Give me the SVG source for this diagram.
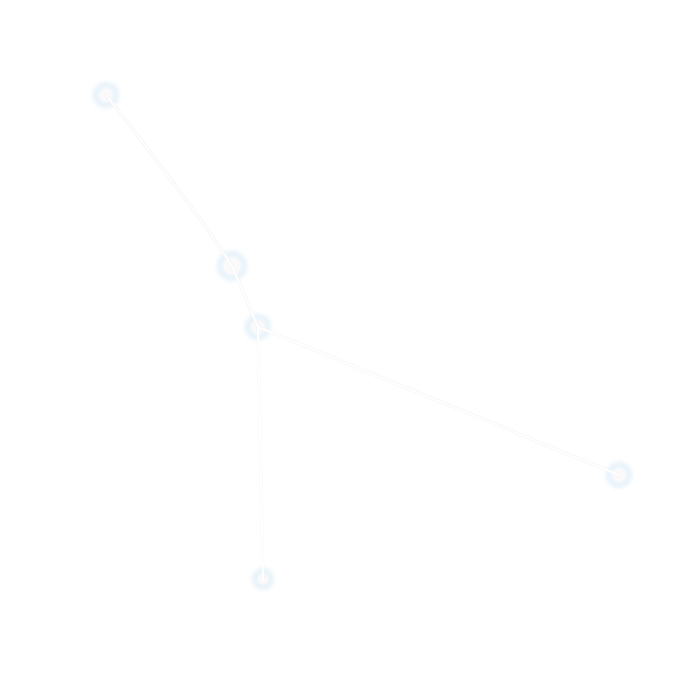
<svg xmlns="http://www.w3.org/2000/svg" width="700" height="700" viewBox="0 0 700 700">
  <defs>
    <filter id="glow" x="-100%" y="-100%" width="300%" height="300%">
      <feGaussianBlur stdDeviation="2.2"/>
    </filter>
    <style>
      .edge-under { stroke: #f2f3f4; stroke-width: 3.2; fill: none; stroke-linecap: round; }
      .edge { stroke: #ffffff; stroke-width: 2; fill: none; stroke-linecap: round; }
      .halo { fill: none; stroke: #e6f2fa; stroke-width: 6; filter: url(#glow); }
      .core { fill: #fbf9f9; stroke: none; }
    </style>
  </defs>
  <rect width="700" height="700" fill="#ffffff"/>
  <g id="nodes">
    <g id="node-a"><circle class="halo" cx="106" cy="95" r="10"/><circle class="core" cx="106" cy="95" r="6"/></g>
    <g id="node-b"><circle class="halo" cx="232" cy="266" r="12"/><circle class="core" cx="232" cy="266" r="8"/></g>
    <g id="node-c"><circle class="halo" cx="258" cy="327" r="10"/><circle class="core" cx="258" cy="327" r="6"/></g>
    <g id="node-d"><circle class="halo" cx="619" cy="475" r="10"/><circle class="core" cx="619" cy="475" r="6"/></g>
    <g id="node-e"><circle class="halo" cx="263" cy="579" r="8"/><circle class="core" cx="263" cy="579" r="4.5"/></g>
  </g>
  <g id="connectors">
    <path class="edge-under" d="M106 95 Q 200 215 232 266"/>
    <path class="edge-under" d="M232 266 L258 327"/>
    <path class="edge-under" d="M258 327 L619 475"/>
    <path class="edge-under" d="M258 327 L263 579" stroke-opacity="0.5"/>
    <path class="edge" d="M106 95 Q 200 215 232 266"/>
    <path class="edge" d="M232 266 L258 327"/>
    <path class="edge" d="M258 327 L619 475"/>
    <path class="edge" d="M258 327 L263 579"/>
  </g>
</svg>
